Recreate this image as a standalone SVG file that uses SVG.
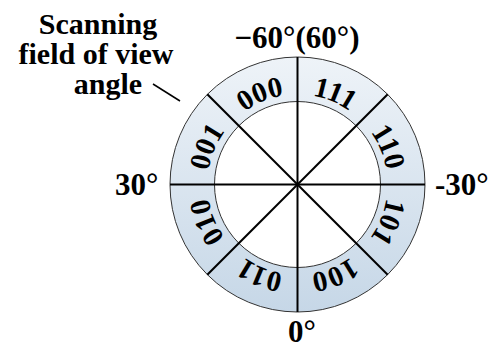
<svg xmlns="http://www.w3.org/2000/svg" width="489" height="349" viewBox="0 0 489 349">
<style>
.t{font-family:"Liberation Serif","Times New Roman",serif;font-weight:bold;fill:#000}
.big{font-size:31px}
.cap{font-size:30px}
.lab{font-size:29px}
.div{stroke:#000;stroke-width:2;fill:none}
.ring{stroke:#333;stroke-width:1;}
</style>
<defs>
<linearGradient id="g" x1="0" y1="0" x2="0" y2="1">
<stop offset="0" stop-color="#eef3f8"/>
<stop offset="1" stop-color="#c6d7e7"/>
</linearGradient>
<path id="arc" d="M207.5,184.5 A90,90 0 1 1 387.5,184.5 A90,90 0 1 1 207.5,184.5"/>
</defs>
<g id="ring">
<circle class="ring" cx="297.5" cy="184.5" r="127.5" fill="url(#g)"/>
<circle class="ring" cx="297.5" cy="184.5" r="83" fill="#fff"/>
</g>
<g id="connectors">
<line class="div" x1="297.5" y1="57" x2="297.5" y2="312"/>
<line class="div" x1="170" y1="184.5" x2="425" y2="184.5"/>
<line class="div" x1="207.3" y1="94.3" x2="387.7" y2="274.7"/>
<line class="div" x1="387.7" y1="94.3" x2="207.3" y2="274.7"/>
<line stroke="#000" stroke-width="1.5" x1="153" y1="84" x2="180" y2="101"/>
</g>
<g id="labels">
<text class="t lab" text-anchor="middle"><textPath href="#arc" startOffset="6.25%">001</textPath></text>
<text class="t lab" text-anchor="middle"><textPath href="#arc" startOffset="18.75%">000</textPath></text>
<text class="t lab" text-anchor="middle"><textPath href="#arc" startOffset="31.25%">111</textPath></text>
<text class="t lab" text-anchor="middle"><textPath href="#arc" startOffset="43.75%">110</textPath></text>
<text class="t lab" text-anchor="middle"><textPath href="#arc" startOffset="56.25%">101</textPath></text>
<text class="t lab" text-anchor="middle"><textPath href="#arc" startOffset="68.75%">100</textPath></text>
<text class="t lab" text-anchor="middle"><textPath href="#arc" startOffset="81.25%">011</textPath></text>
<text class="t lab" text-anchor="middle"><textPath href="#arc" startOffset="93.75%">010</textPath></text>
</g>
<g id="angles">
<text class="t big" x="297" y="48" text-anchor="middle">−60°(60°)</text>
<text class="t big" x="115" y="195">30°</text>
<text class="t big" x="435" y="195">-30°</text>
<text class="t big" x="288" y="342">0°</text>
</g>
<g id="caption">
<text class="t cap" x="98" y="34" text-anchor="middle">Scanning</text>
<text class="t cap" x="96" y="64" text-anchor="middle">field of view</text>
<text class="t cap" x="108" y="94" text-anchor="middle">angle</text>
</g>
</svg>
